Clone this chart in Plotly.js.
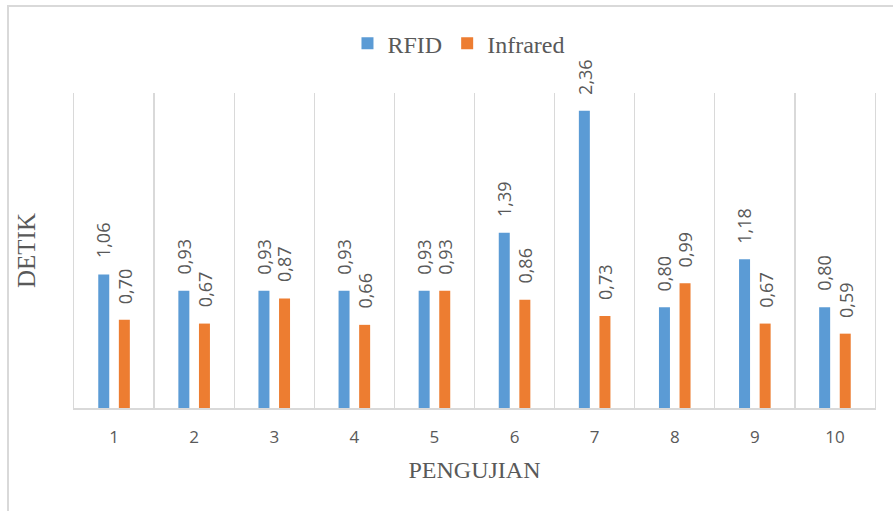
<!DOCTYPE html>
<html>
<head>
<meta charset="utf-8">
<script src="https://cdn.plot.ly/plotly-3.0.1.min.js"></script>
<style>
  html, body { margin: 0; padding: 0; background: #ffffff; }
  #wrap { position: relative; width: 893px; height: 511px; overflow: hidden; }
  #chart { position: absolute; left: 0; top: 0; width: 893px; height: 511px; }
  #frame { position: absolute; left: 7px; top: 5px; width: 1000px; height: 1000px;
           border: 2px solid #d9d9d9; pointer-events: none; z-index: 5; }
</style>
</head>
<body>
<div id="wrap">
  <div id="chart"></div>
  <div id="frame"></div>
</div>
<script>
const categories = ['1', '2', '3', '4', '5', '6', '7', '8', '9', '10'];
const rfidValues = [1.06, 0.93, 0.93, 0.93, 0.93, 1.39, 2.36, 0.80, 1.18, 0.80];
const infraredValues = [0.70, 0.67, 0.87, 0.66, 0.93, 0.86, 0.73, 0.99, 0.67, 0.59];
const seriesNames = ['RFID', 'Infrared'];
const seriesColors = ['#5b9bd5', '#ed7d31'];

const fmt = v => v.toFixed(2).replace('.', ',');
const txtColor = '#595959';
const gridColor = '#d9d9d9';
const serif = 'Liberation Serif, Times New Roman, serif';
const sans = 'Open Sans, sans-serif';

const traces = [rfidValues, infraredValues].map((vals, i) => ({
  type: 'bar',
  name: seriesNames[i],
  x: categories,
  y: vals,
  marker: { color: seriesColors[i] },
  hoverinfo: 'x+y'
}));

// value labels: x is the category index on the category axis
const annotations = [];
[rfidValues, infraredValues].forEach((vals, i) => {
  vals.forEach((v, j) => {
    annotations.push({
      x: j, y: v, xref: 'x', yref: 'y',
      text: fmt(v), showarrow: false, textangle: -90,
      xanchor: 'center', yanchor: 'bottom',
      xshift: i === 0 ? -10.4 : 10.4, yshift: 14,
      font: { family: sans, size: 18, color: txtColor }
    });
  });
});

const layout = {
  width: 893, height: 511,
  margin: { l: 74, r: 18, t: 93, b: 103 },
  paper_bgcolor: 'rgba(0,0,0,0)',
  plot_bgcolor: '#ffffff',
  barmode: 'group',
  bargap: 0.486,
  bargroupgap: 0.466,
  showlegend: true,
  legend: {
    orientation: 'h', x: 0.48, xanchor: 'center', y: 1.157, yanchor: 'middle',
    font: { family: serif, size: 24, color: txtColor },
    traceorder: 'normal'
  },
  xaxis: {
    type: 'category',
    range: [-0.5, categories.length - 0.5],
    tickson: 'boundaries',
    showgrid: true, gridcolor: gridColor, gridwidth: 1.3,
    showline: true, linecolor: gridColor, linewidth: 2,
    ticks: '', ticklabelstandoff: 13,
    tickfont: { family: sans, size: 17, color: txtColor },
    title: { text: 'PENGUJIAN', standoff: 14,
             font: { family: serif, size: 24, color: txtColor } },
    automargin: false, fixedrange: true
  },
  yaxis: {
    range: [0, 2.5],
    showgrid: false, zeroline: false, showticklabels: false, ticks: '',
    showline: true, mirror: true, linecolor: gridColor, linewidth: 1.3,
    title: { text: 'DETIK', standoff: 30,
             font: { family: serif, size: 25, color: txtColor } },
    automargin: false, fixedrange: true
  },
  annotations: annotations
};

Plotly.newPlot('chart', traces, layout, { displayModeBar: false, staticPlot: true });
</script>
</body>
</html>
